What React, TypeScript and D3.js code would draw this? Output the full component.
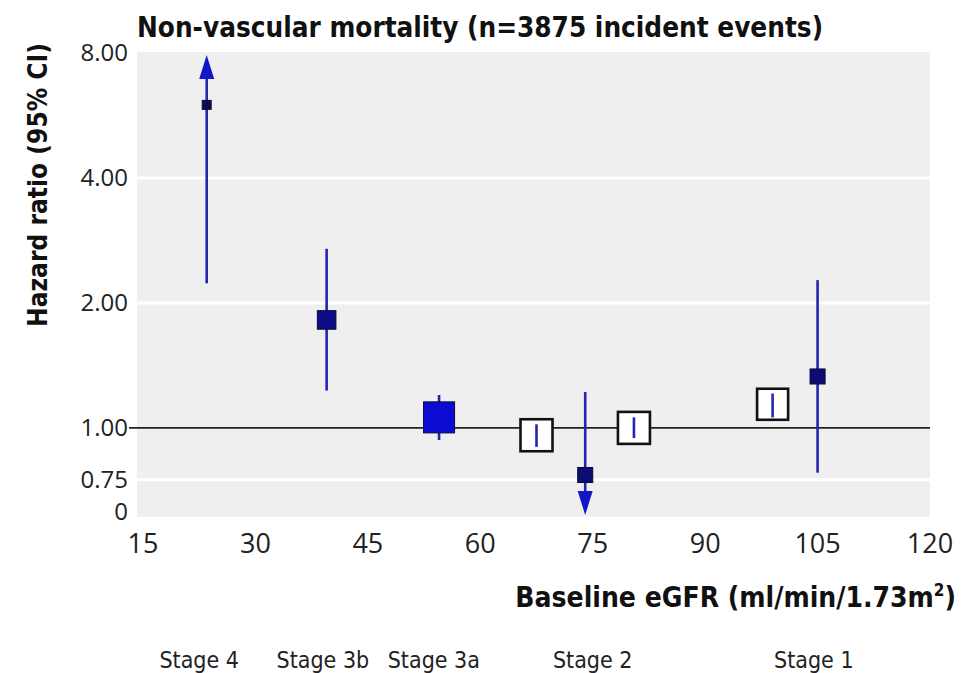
import * as React from 'react'
import { useEffect, useRef } from 'react'
import * as d3 from 'd3'

// baseline eGFR groups (ml/min/1.73m2)
const eGFR = [23.5, 39.5, 54.5, 67.5, 74, 80.5, 99, 105]
const hazardRatio = [6.0, 1.82, 1.06, 0.96, 0.77, 1.0, 1.14, 1.33]
const ciLower = [2.23, 1.23, 0.935, 0.9, 0.5, 0.945, 1.06, 0.78]
const ciUpper = [12, 2.7, 1.2, 1.02, 1.22, 1.06, 1.21, 2.27]
const weight = [0.28, 0.58, 0.97, 1.0, 0.47, 1.0, 0.97, 0.47]
const isReference = [false, false, false, true, false, true, true, false]

const xTicks = [15, 30, 45, 60, 75, 90, 105, 120]
const yTicks = [0.63, 0.75, 1, 2, 4, 8]
const yTickLabels = ['0', '0.75', '1.00', '2.00', '4.00', '8.00']
const gridValues = [0.75, 2, 4]

const stageNames = ['Stage 4', 'Stage 3b', 'Stage 3a', 'Stage 2', 'Stage 1']
const stageCentres = [22.5, 39, 53.8, 75, 104.5]

const titleText = 'Non-vascular mortality (n=3875 incident events)'

const ForestChart = () => {
    const chartRef = useRef(null)

    useEffect(() => {
        const svg = d3.select(chartRef.current)
        svg.selectAll('*').remove()

        const xScale = d3.scaleLinear().domain([14.2, 120]).range([137, 930])
        const yScale = d3.scaleLog().domain([0.61, 8]).range([517, 53])
        const sizeScale = d3.scaleLinear().domain([0, 1]).range([0, 32])
        const fillScale = d3.scaleLinear<string>().domain([0.3, 1]).range(['#0d0d50', '#0b0bd8'])

        const [x0, x1] = xScale.range()
        const [yBottom, yTop] = yScale.range()
        const blue = '#2424b0'
        const condensed = "'Liberation Sans Narrow', 'DejaVu Sans Condensed', sans-serif"
        const tickFont = "'Open Sans', sans-serif"

        // plot background
        svg.append('rect')
            .attr('x', x0).attr('y', yTop - 1)
            .attr('width', x1 - x0).attr('height', yBottom - yTop + 1)
            .attr('fill', '#efefef')

        svg.selectAll('line.grid')
            .data(gridValues)
            .enter()
            .append('line')
            .attr('class', 'grid')
            .attr('x1', x0).attr('x2', x1)
            .attr('y1', d => yScale(d)).attr('y2', d => yScale(d))
            .attr('stroke', '#ffffff')
            .attr('stroke-width', 3)

        // reference line at HR 1
        svg.append('line')
            .attr('x1', x0 - 8).attr('x2', x1)
            .attr('y1', yScale(1)).attr('y2', yScale(1))
            .attr('stroke', '#222')
            .attr('stroke-width', 1.6)

        const points = eGFR.map((x, i) => ({
            x, hr: hazardRatio[i], lo: ciLower[i], hi: ciUpper[i],
            w: weight[i], ref: isReference[i]
        }))

        const clampY = (v: number) => yScale(Math.max(0.61, Math.min(8, v)))

        const g = svg.append('g')

        points.forEach(d => {
            const cx = xScale(d.x)
            const cy = yScale(d.hr)
            const s = sizeScale(d.w)

            if (d.ref) {
                g.append('rect')
                    .attr('x', cx - s / 2).attr('y', cy - s / 2)
                    .attr('width', s).attr('height', s)
                    .attr('fill', '#ffffff')
                    .attr('stroke', '#111')
                    .attr('stroke-width', 2.6)
                g.append('line')
                    .attr('x1', cx).attr('x2', cx)
                    .attr('y1', clampY(d.hi)).attr('y2', clampY(d.lo))
                    .attr('stroke', blue)
                    .attr('stroke-width', 2.6)
                return
            }

            const top = d.hi > 8 ? yTop + 12 : clampY(d.hi)
            const bottom = d.lo < 0.61 ? yBottom - 12 : clampY(d.lo)
            g.append('line')
                .attr('x1', cx).attr('x2', cx)
                .attr('y1', top).attr('y2', bottom)
                .attr('stroke', blue)
                .attr('stroke-width', 2.6)

            if (d.hi > 8) {
                const tip = yTop + 2
                g.append('path')
                    .attr('d', `M${cx},${tip} L${cx - 7.5},${tip + 24} L${cx + 7.5},${tip + 24} Z`)
                    .attr('fill', '#1515c8')
            }
            if (d.lo < 0.61) {
                const tip = yBottom - 2
                g.append('path')
                    .attr('d', `M${cx},${tip} L${cx - 7.5},${tip - 24} L${cx + 7.5},${tip - 24} Z`)
                    .attr('fill', '#1515c8')
            }

            g.append('rect')
                .attr('x', cx - s / 2).attr('y', cy - s / 2)
                .attr('width', s).attr('height', s)
                .attr('fill', fillScale(d.w))
                .attr('stroke', '#0a0a40')
                .attr('stroke-width', 1)
        })

        // y tick labels
        svg.selectAll('text.ytick')
            .data(yTicks)
            .enter()
            .append('text')
            .attr('class', 'ytick')
            .attr('x', x0 - 9)
            .attr('y', d => yScale(d))
            .attr('dy', '0.35em')
            .attr('text-anchor', 'end')
            .style('font-family', tickFont)
            .style('font-size', '24px')
            .style('fill', '#222')
            .text((d, i) => yTickLabels[i])

        // x tick labels
        svg.selectAll('text.xtick')
            .data(xTicks)
            .enter()
            .append('text')
            .attr('class', 'xtick')
            .attr('x', d => xScale(d))
            .attr('y', 553)
            .attr('text-anchor', 'middle')
            .style('font-family', tickFont)
            .style('font-size', '27px')
            .style('fill', '#222')
            .text(d => d)

        svg.append('text')
            .attr('x', 137)
            .attr('y', 37)
            .attr('textLength', 686)
            .attr('lengthAdjust', 'spacingAndGlyphs')
            .style('font-family', condensed)
            .style('font-weight', 'bold')
            .style('font-size', '28px')
            .style('fill', '#111')
            .text(titleText)

        svg.append('text')
            .attr('transform', 'translate(47, 185) rotate(-90)')
            .attr('text-anchor', 'middle')
            .attr('textLength', 284)
            .attr('lengthAdjust', 'spacingAndGlyphs')
            .style('font-family', condensed)
            .style('font-weight', 'bold')
            .style('font-size', '27px')
            .style('fill', '#111')
            .text('Hazard ratio (95% CI)')

        const xLabel = svg.append('text')
            .attr('x', 956)
            .attr('y', 607)
            .attr('text-anchor', 'end')
            .style('font-family', condensed)
            .style('font-weight', 'bold')
            .style('font-size', '28px')
            .style('fill', '#111')
        xLabel.append('tspan').text('Baseline eGFR (ml/min/1.73m')
        xLabel.append('tspan').attr('dy', -11).style('font-size', '17px').text('2')
        xLabel.append('tspan').attr('dy', 11).text(')')

        svg.selectAll('text.stage')
            .data(stageNames)
            .enter()
            .append('text')
            .attr('class', 'stage')
            .attr('x', (d, i) => xScale(stageCentres[i]))
            .attr('y', 668)
            .attr('text-anchor', 'middle')
            .style('font-family', condensed)
            .style('font-size', '23px')
            .style('fill', '#222')
            .text(d => d)
    }, [])

    return (
        <svg ref={chartRef} width={974} height={673}
            style={{ position: 'absolute', left: 0, top: 0, background: '#ffffff' }}></svg>
    )
}

export default function App() {
    return <ForestChart />
}
